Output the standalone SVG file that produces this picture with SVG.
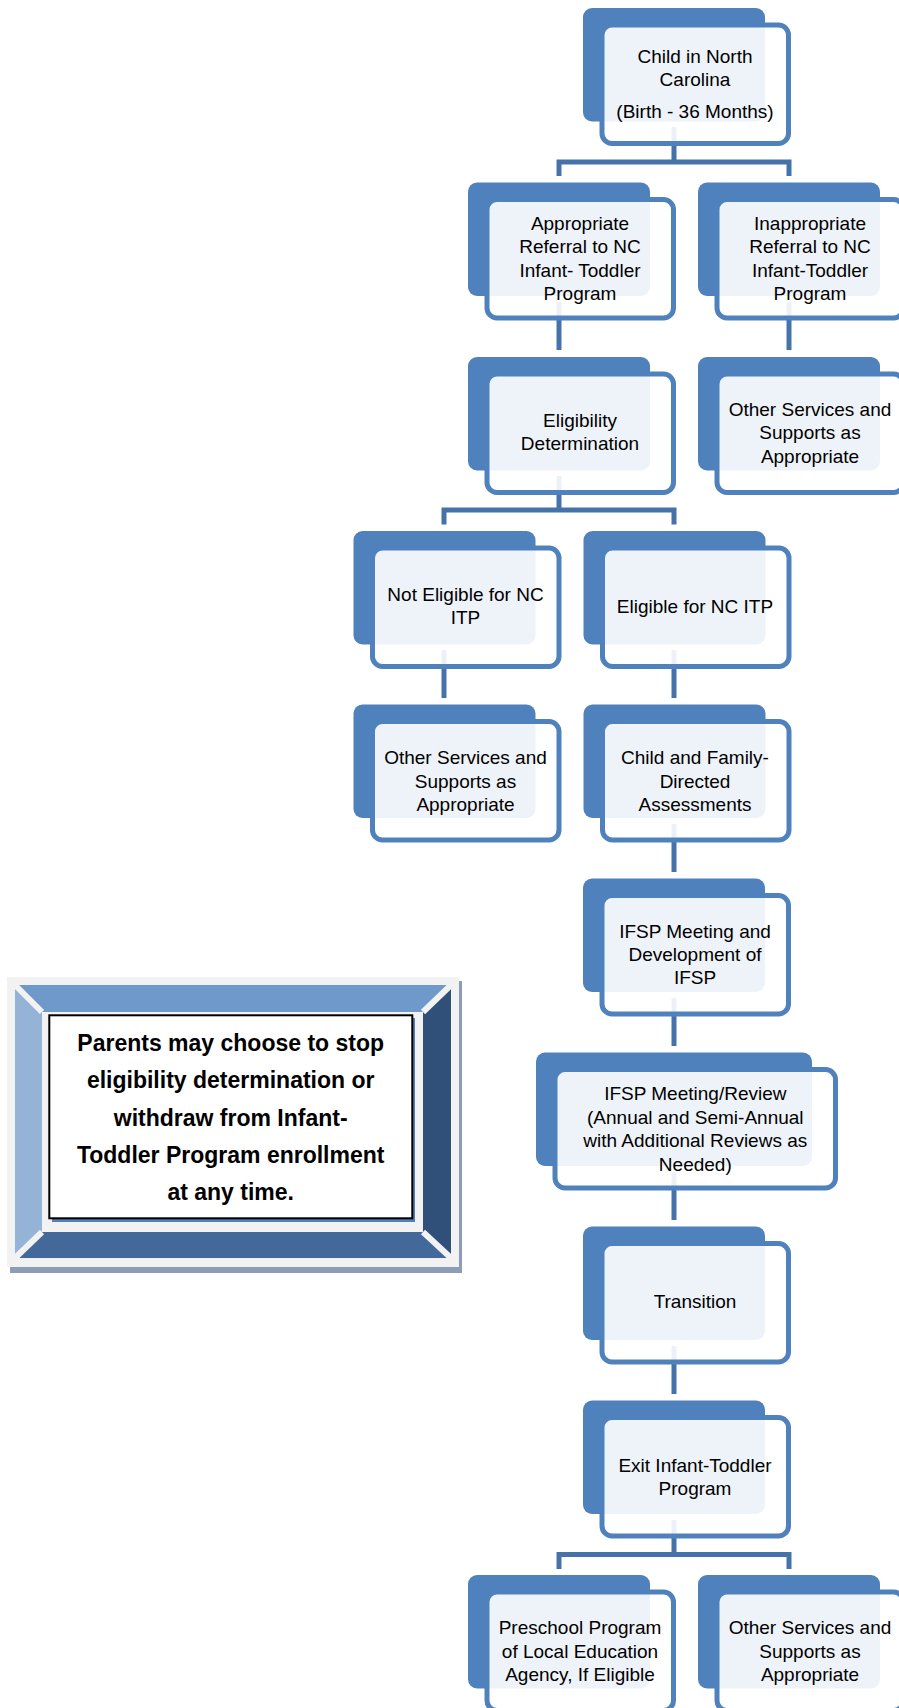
<svg xmlns="http://www.w3.org/2000/svg" width="899" height="1708" viewBox="0 0 899 1708">
<style>
.back{fill:#4F81BD}
.front{fill:#FFFFFF;fill-opacity:0.9;stroke:#4F81BD;stroke-width:5}
.t{font-family:"Liberation Sans",Arial,sans-serif;font-size:19px;fill:#000;text-anchor:middle}
.conn{fill:none;stroke:#4672AA;stroke-width:5;stroke-linejoin:miter}
.nt{font-family:"Liberation Sans",Arial,sans-serif;font-size:23px;font-weight:bold;fill:#000;text-anchor:middle}
</style>
<rect width="899" height="1708" fill="#FFFFFF"/>

<g id="connectors">
<path class="conn" d="M674,127V162 M559,176V162H789V176"/>
<path class="conn" d="M559,302V350"/>
<path class="conn" d="M789,302V350"/>
<path class="conn" d="M559,476V510 M444,524.5V510H674V524.5"/>
<path class="conn" d="M444,650V698"/>
<path class="conn" d="M674,650V698"/>
<path class="conn" d="M674,824V872"/>
<path class="conn" d="M674,998V1046"/>
<path class="conn" d="M674,1172V1220"/>
<path class="conn" d="M674,1346V1394"/>
<path class="conn" d="M674,1520V1554.5 M559,1569V1554.5H789V1569"/>
</g>

<g id="n-child">
<rect class="back" x="583" y="8" width="182" height="113.5" rx="9"/>
<rect class="front" x="602" y="25" width="186.5" height="118.5" rx="10"/>
<text class="t"><tspan x="695" y="63.3">Child in North</tspan><tspan x="695" y="86">Carolina</tspan><tspan x="695" y="118.3">(Birth - 36 Months)</tspan></text>
</g>

<g id="n-appropriate">
<rect class="back" x="468" y="182.5" width="182" height="113.5" rx="9"/>
<rect class="front" x="487" y="199.5" width="186.5" height="118.5" rx="10"/>
<text class="t"><tspan x="580" y="230">Appropriate</tspan><tspan x="580" y="253">Referral to NC</tspan><tspan x="580" y="276.5">Infant- Toddler</tspan><tspan x="580" y="300">Program</tspan></text>
</g>

<g id="n-inappropriate">
<rect class="back" x="698" y="182.5" width="182" height="113.5" rx="9"/>
<rect class="front" x="717" y="199.5" width="186.5" height="118.5" rx="10"/>
<text class="t"><tspan x="810" y="230">Inappropriate</tspan><tspan x="810" y="253">Referral to NC</tspan><tspan x="810" y="276.5">Infant-Toddler</tspan><tspan x="810" y="300">Program</tspan></text>
</g>

<g id="n-eligibility">
<rect class="back" x="468" y="357" width="182" height="113.5" rx="9"/>
<rect class="front" x="487" y="374" width="186.5" height="118.5" rx="10"/>
<text class="t"><tspan x="580" y="426.7">Eligibility</tspan><tspan x="580" y="450">Determination</tspan></text>
</g>

<g id="n-other1">
<rect class="back" x="698" y="357" width="182" height="113.5" rx="9"/>
<rect class="front" x="717" y="374" width="186.5" height="118.5" rx="10"/>
<text class="t"><tspan x="810" y="416">Other Services and</tspan><tspan x="810" y="439">Supports as</tspan><tspan x="810" y="462.5">Appropriate</tspan></text>
</g>

<g id="n-noteligible">
<rect class="back" x="353.5" y="531" width="182" height="113.5" rx="9"/>
<rect class="front" x="372.5" y="548" width="186.5" height="118.5" rx="10"/>
<text class="t"><tspan x="465.5" y="601">Not Eligible for NC</tspan><tspan x="465.5" y="624.3">ITP</tspan></text>
</g>

<g id="n-eligible">
<rect class="back" x="583.5" y="531" width="182" height="113.5" rx="9"/>
<rect class="front" x="602.5" y="548" width="186.5" height="118.5" rx="10"/>
<text class="t"><tspan x="695" y="613.3">Eligible for NC ITP</tspan></text>
</g>

<g id="n-other2">
<rect class="back" x="353.5" y="704.5" width="182" height="113.5" rx="9"/>
<rect class="front" x="372.5" y="721.5" width="186.5" height="118.5" rx="10"/>
<text class="t"><tspan x="465.5" y="764.3">Other Services and</tspan><tspan x="465.5" y="787.5">Supports as</tspan><tspan x="465.5" y="811">Appropriate</tspan></text>
</g>

<g id="n-assess">
<rect class="back" x="583.5" y="704.5" width="182" height="113.5" rx="9"/>
<rect class="front" x="602.5" y="721.5" width="186.5" height="118.5" rx="10"/>
<text class="t"><tspan x="695" y="764.3">Child and Family-</tspan><tspan x="695" y="787.5">Directed</tspan><tspan x="695" y="811">Assessments</tspan></text>
</g>

<g id="n-ifsp">
<rect class="back" x="583" y="878.5" width="182" height="113.5" rx="9"/>
<rect class="front" x="602" y="895.5" width="186.5" height="118.5" rx="10"/>
<text class="t"><tspan x="695" y="938.3">IFSP Meeting and</tspan><tspan x="695" y="961">Development of</tspan><tspan x="695" y="984.3">IFSP</tspan></text>
</g>

<g id="n-review">
<rect class="back" x="536" y="1052.5" width="276" height="113.5" rx="9"/>
<rect class="front" x="555" y="1069.5" width="280.5" height="118.5" rx="10"/>
<text class="t"><tspan x="695.3" y="1100">IFSP Meeting/Review</tspan><tspan x="695.3" y="1124">(Annual and Semi-Annual</tspan><tspan x="695.3" y="1147">with Additional Reviews as</tspan><tspan x="695.3" y="1171">Needed)</tspan></text>
</g>

<g id="n-transition">
<rect class="back" x="583" y="1226.5" width="182" height="113.5" rx="9"/>
<rect class="front" x="602" y="1243.5" width="186.5" height="118.5" rx="10"/>
<text class="t"><tspan x="695" y="1308.3">Transition</tspan></text>
</g>

<g id="n-exit">
<rect class="back" x="583" y="1400.5" width="182" height="113.5" rx="9"/>
<rect class="front" x="602" y="1417.5" width="186.5" height="118.5" rx="10"/>
<text class="t"><tspan x="695" y="1471.7">Exit Infant-Toddler</tspan><tspan x="695" y="1495">Program</tspan></text>
</g>

<g id="n-preschool">
<rect class="back" x="468" y="1575" width="182" height="113.5" rx="9"/>
<rect class="front" x="487" y="1592" width="186.5" height="118.5" rx="10"/>
<text class="t"><tspan x="580" y="1634.3">Preschool Program</tspan><tspan x="580" y="1658.3">of Local Education</tspan><tspan x="580" y="1681">Agency, If Eligible</tspan></text>
</g>

<g id="n-other3">
<rect class="back" x="698" y="1575" width="182" height="113.5" rx="9"/>
<rect class="front" x="717" y="1592" width="186.5" height="118.5" rx="10"/>
<text class="t"><tspan x="810" y="1634.3">Other Services and</tspan><tspan x="810" y="1658.3">Supports as</tspan><tspan x="810" y="1681">Appropriate</tspan></text>
</g>

<g id="note">
<rect x="10" y="981" width="452" height="292" fill="#8C9DB5"/>
<rect x="7" y="977" width="452" height="290" fill="#F2F2F2"/>
<polygon points="15,985 451,985 423,1012 42,1012" fill="#7099CB"/>
<polygon points="15,985 42,1012 42,1232 15,1258" fill="#95B3D7"/>
<polygon points="451,985 451,1258 423,1232 423,1012" fill="#30507A"/>
<polygon points="15,1258 42,1232 423,1232 451,1258" fill="#43699B"/>
<path d="M15,985L42,1012 M451,985L423,1012 M15,1258L42,1232 M451,1258L423,1232" stroke="#F2F2F2" stroke-width="6" fill="none"/>
<rect x="42" y="1012" width="381" height="220" fill="#F2F2F2"/>
<rect x="52" y="1018" width="363" height="204" fill="#4F81BD"/>
<rect x="49.3" y="1015.3" width="363" height="203" fill="#FFFFFF" stroke="#000000" stroke-width="2"/>
<text class="nt"><tspan x="230.7" y="1050.7">Parents may choose to stop</tspan><tspan x="230.7" y="1087.7">eligibility determination or</tspan><tspan x="230.7" y="1125.7">withdraw from Infant-</tspan><tspan x="230.7" y="1162.7">Toddler Program enrollment</tspan><tspan x="230.7" y="1200">at any time.</tspan></text>
</g>
</svg>
